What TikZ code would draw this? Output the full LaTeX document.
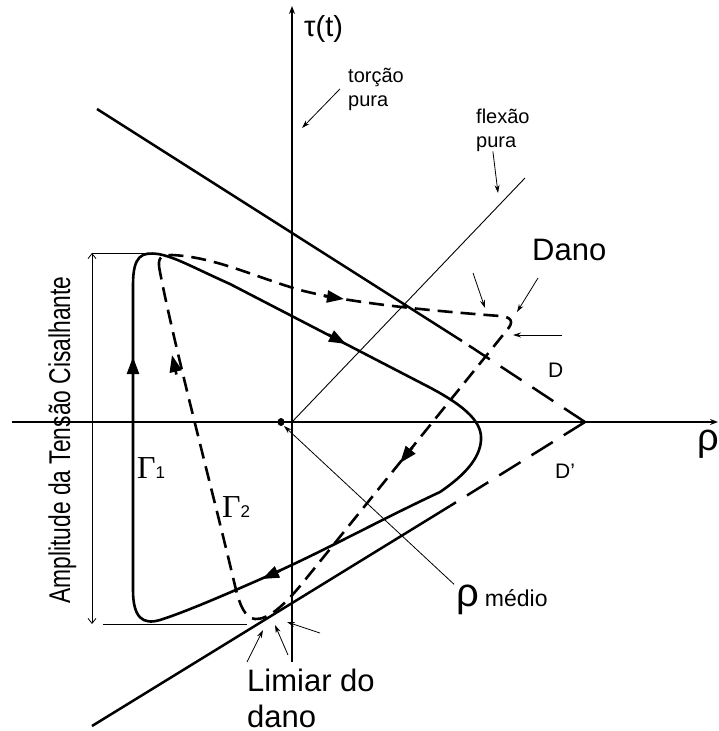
\documentclass[tikz,border=0pt]{standalone}
\usepackage{fontspec}
\setmainfont{Liberation Sans}
\newfontfamily\grfont{Liberation Serif}
\newfontfamily\narrowfont[FakeStretch=0.76]{Liberation Sans}
\usetikzlibrary{arrows.meta}

\begin{document}
\begin{tikzpicture}[x=1pt, y=-1pt,
		axis/.style={line width=1.1pt, -{Stealth[length=8pt,width=6pt]}},
		limit/.style={line width=2.5pt},
		limitdash/.style={line width=2.5pt, dash pattern=on 25pt off 13pt},
		loadpath/.style={line width=2.6pt},
		loaddash/.style={line width=2.6pt, dash pattern=on 15pt off 8pt},
		tip/.style={line width=2.6pt, -{Triangle[length=17pt,width=12pt]}},
		pointer/.style={line width=0.8pt, -{Stealth[length=8pt,width=5pt]}},
		lbl/.style={inner sep=0pt, anchor=base west}]
		
		\useasboundingbox (0,0) rectangle (718,731);
		
		% Define the origin and the ends of the axes
		\coordinate (O) at (292,422);
		\coordinate (xmin) at (12,422);
		\coordinate (xmax) at (718,422);
		\coordinate (ymin) at (292,662);
		\coordinate (ymax) at (292,6);
		
		% Draw the axes and the line of pure bending
		\draw[axis] (xmin) -- (xmax);
		\draw[axis] (ymin) -- (ymax);
		\coordinate (F) at (525,178);
		\draw[line width=0.9pt] (O) -- (F);
		
		% Define the damage limit lines D and D'
		\coordinate (P) at (585,422);
		\coordinate (U0) at (97,109);
		\coordinate (U1) at (462,341);
		\coordinate (L0) at (92,726);
		\coordinate (L1) at (450,506);
		
		% Draw them, solid inside and dashed up to the apex
		\draw[limit] (U0) -- (U1);
		\draw[limitdash] (P) -- (U1);
		\draw[limit] (L0) -- (L1);
		\draw[limitdash] (P) -- (L1);
		
		% Mean value of rho
		\fill (281,422) ellipse (3.5pt and 4pt);
		
		% Load path Gamma 1
		\draw[loadpath] (133,590) -- (133,285) .. controls (133,255) and (142,252) .. (158,254)
			.. controls (175,257) and (190,266) .. (230,284) -- (425,385)
			.. controls (470,408) and (482,424) .. (481,440)
			.. controls (480,458) and (465,475) .. (440,492)
			.. controls (380,520) and (330,548) .. (270,575)
			.. controls (220,597) and (185,612) .. (160,620)
			.. controls (143,625) and (133,618) .. (133,590) -- cycle;
		\draw[tip] (133,377) -- (133,357);
		\draw[tip] (328.2,334.5) -- (346,344);
		\draw[tip] (280.2,570.6) -- (262,579);
		
		% Load path Gamma 2
		\draw[loaddash] (160,272) .. controls (157,258) and (160,255) .. (172,255)
			.. controls (215,257) and (255,277) .. (300,290)
			.. controls (345,302) and (420,310) .. (500,316)
			.. controls (512,317) and (514,322) .. (507,330) -- (305,580)
			.. controls (285,605) and (268,620) .. (255,619)
			.. controls (245,618) and (240,605) .. (236,590)
			.. controls (215,500) and (175,350) .. (160,272);
		\draw[tip] (324,296) -- (344,299);
		\draw[tip] (176.4,374.5) -- (172,355);
		\draw[tip] (412.5,447.4) -- (400,463);
		
		% Amplitude of the shear stress
		\coordinate (Atop) at (92,253);
		\coordinate (Abot) at (92,624);
		\draw[line width=0.8pt] (Atop) -- (153,253);
		\draw[line width=0.8pt] (103,624) -- (247,624);
		\draw[line width=0.8pt, {Straight Barb[length=5pt,width=8pt]}-{Straight Barb[length=5pt,width=8pt]}] (Abot) -- (Atop);
		\node[rotate=90, inner sep=0pt, anchor=base] (amp) at (70,440)
			{\narrowfont\fontsize{30}{30}\selectfont Amplitude da Tensão Cisalhante};
		
		% Labels of the axes and of the curves
		\node[lbl] (tau) at (304,36) {\fontsize{29}{29}\selectfont τ(t)};
		\node[lbl] (rho) at (697,450) {\fontsize{38}{38}\selectfont ρ};
		\node[lbl] (g1) at (137,478) {\grfont\fontsize{32}{32}\selectfont Γ\fontspec{Liberation Sans}\fontsize{17}{17}\selectfont 1};
		\node[lbl] (g2) at (222,517) {\grfont\fontsize{32}{32}\selectfont Γ\fontspec{Liberation Sans}\fontsize{17}{17}\selectfont 2};
		\node[lbl] (D) at (548,377) {\fontsize{21}{21}\selectfont D};
		\node[lbl] (Dp) at (555,478) {\fontsize{21}{21}\selectfont D’};
		
		% Pure torsion and pure bending
		\node[lbl, align=left, font=\fontsize{20}{24}\selectfont] (torcao) at (348,106) {torção\\pura};
		\draw[pointer] ([xshift=-8pt]torcao.west) -- (302,128);
		\node[lbl, align=left, font=\fontsize{20}{24}\selectfont] (flexao) at (476,147) {flexão\\pura};
		\draw[pointer] ([xshift=-10pt]flexao.south) -- (498,193);
		
		% Damage
		\node[lbl] (dano) at (532,260) {\fontsize{31}{31}\selectfont Dano};
		\coordinate (d1) at (473,273);
		\coordinate (d2) at (538,278);
		\coordinate (d3) at (562,335);
		\draw[pointer] (d1) -- (485,308);
		\draw[pointer] (d2) -- (517,312);
		\draw[pointer] (d3) -- (513,335);
		
		% Damage threshold
		\node[lbl, align=left, font=\fontsize{31}{36}\selectfont] (limiar) at (247,727) {Limiar do\\dano};
		\coordinate (t1) at (247,662);
		\coordinate (t2) at (288,655);
		\coordinate (t3) at (320,633);
		\draw[pointer] (t1) -- (263,630);
		\draw[pointer] (t2) -- (275,625);
		\draw[pointer] (t3) -- (287,622);
		
		% Mean rho
		\node[lbl] (rhomed) at (456,606) {{\fontsize{40}{40}\selectfont ρ}\hspace{6pt}{\fontsize{23}{23}\selectfont médio}};
		\draw[pointer] ([xshift=-2pt]rhomed.north west) -- (284,426);
		
	\end{tikzpicture}
\end{document}
